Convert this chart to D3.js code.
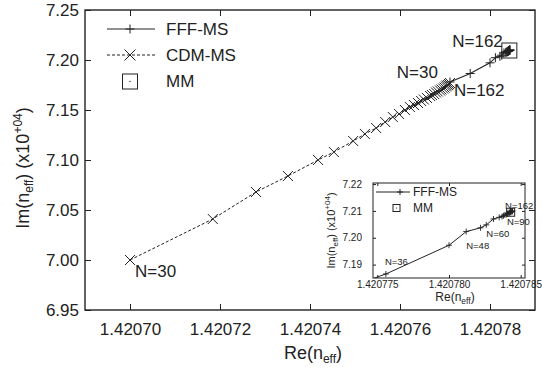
<!DOCTYPE html>
<html><head><meta charset="utf-8">
<script src="https://cdn.jsdelivr.net/npm/d3@7"></script>
<style>
body{margin:0;background:#fff}
text{font-family:"Liberation Sans",Arial,Helvetica,sans-serif;fill:#222}
</style>
</head><body>
<svg id="chart" width="542" height="373"></svg>
<script>
// Effective index convergence: Re(n_eff) vs Im(n_eff) (x10^+04)
const seriesNames = ["FFF-MS", "CDM-MS", "MM"];

// FFF-MS, N = 30 .. 162 step 6
const fffN  = [30,36,42,48,54,60,66,72,78,84,90,96,102,108,114,120,126,132,138,144,150,156,162];
const fffRe = [1.4207711,1.4207756,1.4207800,1.4207812,1.4207822,1.4207826,1.4207831,1.4207835,
               1.4207837,1.4207838,1.4207839,1.4207840,1.4207841,1.4207841,1.4207842,1.4207842,
               1.4207843,1.4207843,1.4207843,1.4207844,1.4207844,1.4207844,1.4207844];
const fffIm = [7.1780,7.1865,7.1972,7.2023,7.2037,7.2048,7.2070,7.2076,
               7.2079,7.2082,7.2085,7.2087,7.2089,7.2091,7.2093,7.2094,
               7.2095,7.2096,7.2097,7.2098,7.2099,7.2099,7.2100];

// CDM-MS, from N = 30 (first) to N = 162 (last)
const cdmRe = [1.4207000,1.4207184,1.4207280,1.4207351,1.4207418,1.4207453,1.4207496,1.4207522,
               1.4207547,1.4207567,1.4207584,1.4207598,1.4207611,1.4207622,1.4207631,1.4207640,
               1.4207647,1.4207653,1.4207660,1.4207667,1.4207671,1.4207676,1.4207680,1.4207684,
               1.4207689,1.4207692,1.4207696,1.4207699,1.4207702,1.4207704,1.4207707,1.4207709,1.4207711];
const cdmIm = [7.0000,7.0410,7.0680,7.0840,7.1000,7.1080,7.1190,7.1260,
               7.1320,7.1380,7.1430,7.1460,7.1500,7.1530,7.1550,7.1570,
               7.1590,7.1605,7.1620,7.1640,7.1650,7.1660,7.1675,7.1685,
               7.1695,7.1705,7.1715,7.1725,7.1735,7.1745,7.1750,7.1760,7.1770];

// MM reference value
const mmRe = [1.4207843];
const mmIm = [7.2095];

// axis ticks
const xTicks = [1.42070,1.42072,1.42074,1.42076,1.42078];
const yTicks = [6.95,7.00,7.05,7.10,7.15,7.20,7.25];
const insetXTicks = [1.420775,1.420780,1.420785];
const insetYTicks = [7.19,7.20,7.21,7.22];

const fff = fffN.map((n,i)=>({n, re:fffRe[i], im:fffIm[i]}));
const cdm = cdmRe.map((re,i)=>({re, im:cdmIm[i]}));
const mm  = mmRe.map((re,i)=>({re, im:mmIm[i]}));

const svg = d3.select("#chart");
const ink = "#222";

const plusPath  = s => `M${-s},0H${s}M0,${-s}V${s}`;
const crossPath = s => `M${-s},${-s}L${s},${s}M${-s},${s}L${s},${-s}`;

// ---------- main panel ----------
const M = {l:85, r:535, t:10, b:310};
const x = d3.scaleLinear().domain([1.42069,1.42079]).range([M.l, M.r]);
const y = d3.scaleLinear().domain([6.95,7.25]).range([M.b, M.t]);

function styleAxis(g, fs){
  g.select(".domain").remove();
  g.selectAll("line").attr("stroke", ink).attr("stroke-width", 1);
  g.selectAll("text").attr("font-size", fs).attr("fill", ink)
    .attr("font-family", '"Liberation Sans",Arial,sans-serif');
}

svg.append("g").attr("transform",`translate(0,${M.b})`)
  .call(d3.axisBottom(x).tickValues(xTicks).tickSize(-6).tickPadding(13).tickFormat(d3.format(".5f")))
  .call(g=>styleAxis(g,17));
svg.append("g").attr("transform",`translate(0,${M.t})`)
  .call(d3.axisTop(x).tickValues(xTicks).tickSize(-6).tickFormat(""))
  .call(g=>styleAxis(g,17));
svg.append("g").attr("transform",`translate(${M.l},0)`)
  .call(d3.axisLeft(y).tickValues(yTicks).tickSize(-6).tickPadding(6).tickFormat(d3.format(".2f")))
  .call(g=>styleAxis(g,17));
svg.append("g").attr("transform",`translate(${M.r},0)`)
  .call(d3.axisRight(y).tickValues(yTicks).tickSize(-6).tickFormat(""))
  .call(g=>styleAxis(g,17));

// axis titles
const xt = svg.append("text").attr("x",(M.l+M.r)/2+3).attr("y",359).attr("text-anchor","middle").attr("font-size",18);
xt.append("tspan").text("Re(n");
xt.append("tspan").attr("font-size",12).attr("dy",4).text("eff");
xt.append("tspan").attr("dy",-4).text(")");

const yt = svg.append("text").attr("transform",`translate(29,${(M.t+M.b)/2+8}) rotate(-90)`)
  .attr("text-anchor","middle").attr("font-size",18);
yt.append("tspan").text("Im(n");
yt.append("tspan").attr("font-size",12).attr("dy",4).text("eff");
yt.append("tspan").attr("dy",-4).text(") (x10");
yt.append("tspan").attr("font-size",12).attr("dy",-7).text("+04");
yt.append("tspan").attr("dy",7).text(")");

const line = (sx,sy)=>d3.line().x(d=>sx(d.re)).y(d=>sy(d.im));

// CDM-MS dashed with crosses
svg.append("path").datum(cdm).attr("d",line(x,y)).attr("fill","none")
  .attr("stroke",ink).attr("stroke-width",1).attr("stroke-dasharray","3,2");
svg.append("g").selectAll("path").data(cdm).join("path")
  .attr("transform",d=>`translate(${x(d.re)},${y(d.im)})`).attr("d",crossPath(5))
  .attr("stroke",ink).attr("stroke-width",1).attr("fill","none");

// FFF-MS solid with plus markers
svg.append("path").datum(fff).attr("d",line(x,y)).attr("fill","none")
  .attr("stroke",ink).attr("stroke-width",1.1);
svg.append("g").selectAll("path").data(fff).join("path")
  .attr("transform",d=>`translate(${x(d.re)},${y(d.im)})`).attr("d",plusPath(4.5))
  .attr("stroke",ink).attr("stroke-width",1).attr("fill","none");

// MM squares
function mmMark(g, sx, sy, s){
  const m = g.append("g").selectAll("g").data(mm).join("g")
    .attr("transform",d=>`translate(${sx(d.re)},${sy(d.im)})`);
  m.append("rect").attr("x",-s).attr("y",-s).attr("width",2*s).attr("height",2*s)
    .attr("fill","none").attr("stroke",ink).attr("stroke-width",1);
  m.append("circle").attr("r",0.7).attr("fill",ink);
}
mmMark(svg, x, y, 7.5);

// point annotations
const ann = (g, d, sx, sy, txt, dx, dy, anchor, fs) =>
  g.append("text").attr("x",sx(d.re)+dx).attr("y",sy(d.im)+dy)
   .attr("text-anchor",anchor).attr("font-size",fs).text(txt);
ann(svg, cdm[0], x, y, "N=30", 5, 17, "start", 17);
ann(svg, cdm[cdm.length-1], x, y, "N=162", 4, 13, "start", 17);
ann(svg, fff[0], x, y, "N=30", -12, -4, "end", 17);
ann(svg, fff[fff.length-1], x, y, "N=162", -7, -3, "end", 17);

// legend
const lg = svg.append("g");
lg.append("line").attr("x1",107).attr("x2",155).attr("y1",29).attr("y2",29).attr("stroke",ink);
lg.append("path").attr("transform","translate(130,29)").attr("d",plusPath(4.5)).attr("stroke",ink);
lg.append("text").attr("x",166).attr("y",35).attr("font-size",17).text(seriesNames[0]);
lg.append("line").attr("x1",107).attr("x2",155).attr("y1",55).attr("y2",55).attr("stroke",ink).attr("stroke-dasharray","3,2");
lg.append("path").attr("transform","translate(130,55)").attr("d",crossPath(5.5)).attr("stroke",ink);
lg.append("text").attr("x",166).attr("y",61).attr("font-size",17).text(seriesNames[1]);
lg.append("rect").attr("x",122.5).attr("y",74).attr("width",15).attr("height",15).attr("fill","none").attr("stroke",ink);
lg.append("circle").attr("cx",130).attr("cy",81.5).attr("r",0.7).attr("fill",ink);
lg.append("text").attr("x",166).attr("y",87).attr("font-size",17).text(seriesNames[2]);

// ---------- inset panel ----------
const I = {l:373, r:525, t:183, b:278};
const xi = d3.scaleLinear().domain([1.4207747,1.4207853]).range([I.l, I.r]);
const yi = d3.scaleLinear().domain([7.185,7.2204]).range([I.b, I.t]);
const inset = svg.append("g");
inset.append("rect").attr("x",I.l).attr("y",I.t).attr("width",I.r-I.l).attr("height",I.b-I.t).attr("fill","#fff");

svg.append("defs").append("clipPath").attr("id","insetClip")
  .append("rect").attr("x",I.l).attr("y",I.t).attr("width",I.r-I.l).attr("height",I.b-I.t);

inset.append("g").attr("transform",`translate(0,${I.b})`)
  .call(d3.axisBottom(xi).tickValues(insetXTicks).tickSize(-3).tickPadding(3).tickFormat(d3.format(".6f")))
  .call(g=>styleAxis(g,10));
inset.append("g").attr("transform",`translate(0,${I.t})`)
  .call(d3.axisTop(xi).tickValues(insetXTicks).tickSize(-3).tickFormat(""))
  .call(g=>styleAxis(g,10));
inset.append("g").attr("transform",`translate(${I.l},0)`)
  .call(d3.axisLeft(yi).tickValues(insetYTicks).tickSize(-3).tickPadding(11).tickFormat(d3.format(".2f")))
  .call(g=>styleAxis(g,10));
inset.append("g").attr("transform",`translate(${I.r},0)`)
  .call(d3.axisRight(yi).tickValues(insetYTicks).tickSize(-3).tickFormat(""))
  .call(g=>styleAxis(g,10));

const idata = inset.append("g").attr("clip-path","url(#insetClip)");
idata.append("path").datum(fff).attr("d",line(xi,yi)).attr("fill","none").attr("stroke",ink).attr("stroke-width",1);
idata.selectAll("path.m").data(fff).join("path").attr("class","m")
  .attr("transform",d=>`translate(${xi(d.re)},${yi(d.im)})`).attr("d",plusPath(3))
  .attr("stroke",ink).attr("stroke-width",0.9).attr("fill","none");
mmMark(idata, xi, yi, 4);

inset.append("rect").attr("x",I.l).attr("y",I.t).attr("width",I.r-I.l).attr("height",I.b-I.t)
  .attr("fill","none").attr("stroke",ink).attr("stroke-width",1);

const byN = n => fff.find(d=>d.n===n);
ann(inset, byN(36), xi, yi, "N=36", -1, -9, "start", 9.5);
ann(inset, byN(48), xi, yi, "N=48", 0, 17, "start", 9.5);
ann(inset, byN(60), xi, yi, "N=60", 0, 12, "start", 9.5);
ann(inset, byN(90), xi, yi, "N=90", 2, 10, "start", 9.5);
ann(inset, byN(162), xi, yi, "N=162", -7, -2, "start", 9.5);

// inset legend
inset.append("line").attr("x1",376).attr("x2",410).attr("y1",192).attr("y2",192).attr("stroke",ink);
inset.append("path").attr("transform","translate(400,192)").attr("d",plusPath(3)).attr("stroke",ink);
inset.append("text").attr("x",413).attr("y",196).attr("font-size",12).text(seriesNames[0]);
inset.append("rect").attr("x",393).attr("y",204.5).attr("width",7).attr("height",7).attr("fill","none").attr("stroke",ink);
inset.append("circle").attr("cx",396.5).attr("cy",208).attr("r",0.6).attr("fill",ink);
inset.append("text").attr("x",413).attr("y",212).attr("font-size",12).text(seriesNames[2]);

// inset axis titles
const ixt = inset.append("text").attr("x",455).attr("y",301).attr("text-anchor","middle").attr("font-size",12);
ixt.append("tspan").text("Re(n");
ixt.append("tspan").attr("font-size",8.5).attr("dy",3).text("eff");
ixt.append("tspan").attr("dy",-3).text(")");

const iyt = inset.append("text").attr("transform",`translate(335,${(I.t+I.b)/2}) rotate(-90)`)
  .attr("text-anchor","middle").attr("font-size",11);
iyt.append("tspan").text("Im(n");
iyt.append("tspan").attr("font-size",8).attr("dy",3).text("eff");
iyt.append("tspan").attr("dy",-3).text(") (x10");
iyt.append("tspan").attr("font-size",8).attr("dy",-5).text("+04");
iyt.append("tspan").attr("dy",5).text(")");

// main frame drawn last so it sits above the inset
svg.append("rect").attr("x",M.l).attr("y",M.t).attr("width",M.r-M.l).attr("height",M.b-M.t)
  .attr("fill","none").attr("stroke",ink).attr("stroke-width",1.4);
</script>
</body></html>
